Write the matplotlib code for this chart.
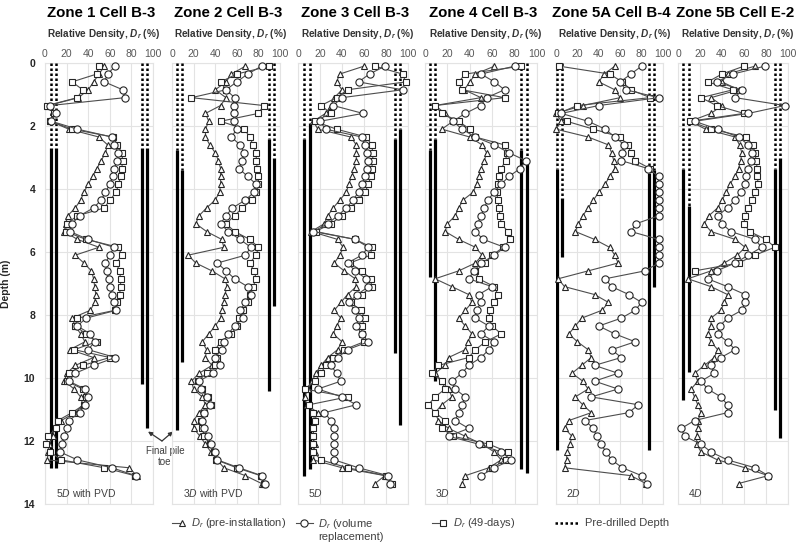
"""Relative density profiles before / after pile installation, six zones."""

import numpy as np
import matplotlib.pyplot as plt
from matplotlib.lines import Line2D

plt.rcParams["font.family"] = ["Liberation Sans", "DejaVu Sans"]
plt.rcParams["mathtext.fontset"] = "custom"
plt.rcParams["mathtext.rm"] = "Liberation Sans"
plt.rcParams["mathtext.it"] = "Liberation Sans:italic"
plt.rcParams["mathtext.bf"] = "Liberation Sans:bold"
plt.rcParams["mathtext.bfit"] = "Liberation Sans:bold:italic"

nan = np.nan

# --- Data -----------------------------------------------------------------
depth = [0.1, 0.35, 0.6, 0.85, 1.1, 1.35, 1.6, 1.85, 2.1, 2.35,
         2.6, 2.85, 3.1, 3.35, 3.6, 3.85, 4.1, 4.35, 4.6, 4.85,
         5.1, 5.35, 5.6, 5.85, 6.1, 6.35, 6.6, 6.85, 7.1, 7.35,
         7.6, 7.85, 8.1, 8.35, 8.6, 8.85, 9.1, 9.35, 9.6, 9.85,
         10.1, 10.35, 10.6, 10.85, 11.1, 11.35, 11.6, 11.85, 12.1, 12.35,
         12.6, 12.85, 13.1, 13.35]

z1_pre = [55, 50, 45, 40, 31, 3, 8, 5, 22, 50,
          58, 56, 52, 48, 44, 40, 36, 33, 28, 21,
          19, 18, 30, 50, 28, 36, 43, 45, 46, 47,
          46, 42, 25, 28, 33, 37, 23, 45, 28, 20,
          18, 27, 33, 35, 28, 15, 9, 7, 4, 3,
          2, 78, 85, nan]
z1_vr = [65, 58, 55, 72, 74, 5, 10, 6, 30, 62,
         64, 68, 67, 64, 63, 60, 56, 52, 45, 32,
         25, 23, 40, 64, 60, 56, 57, 59, 60, 62,
         64, 66, 38, 30, 42, 46, 40, 65, 45, 28,
         22, 37, 40, 37, 32, 22, 20, 18, 16, 14,
         30, 62, 84, nan]
z1_49 = [50, 48, 25, 35, 30, 2, 8, 5, 25, 63,
         67, 71, 72, 71, 70, 68, 66, 60, 55, 30,
         20, 19, 38, 68, 71, 66, 69, 70, 70, 69,
         67, 65, 30, 28, 38, 48, 27, 60, 35, 22,
         20, 35, 38, 36, 25, 12, 10, 3, 1, 5,
         15, 55, 83, nan]

z2_pre = [68, 55, 50, 40, 50, 45, 31, 34, 31, 31,
          35, 40, 43, 45, 45, 45, 44, 40, 32, 25,
          22, 32, 46, 48, 15, 22, 37, 49, 51, 49,
          48, 46, 45, 40, 34, 28, 32, 31, 37, 25,
          18, 20, 28, 31, 25, 20, 20, 26, 31, 36,
          42, 48, 68, 83]
z2_vr = [83, 70, 60, 50, 58, 57, 57, 57, 60, 55,
         63, 67, 65, 62, 70, 78, 76, 68, 56, 50,
         45, 52, 63, 73, 68, 42, 50, 58, 70, 73,
         68, 63, 66, 58, 52, 48, 46, 40, 44, 38,
         25, 27, 32, 35, 30, 28, 30, 33, 36, 40,
         42, 62, 83, 86]
z2_49 = [90, 60, 45, 50, 18, 85, 80, 45, 67, 72,
         75, 78, 78, 79, 80, 80, 78, 74, 65, 58,
         50, 58, 72, 80, 78, 72, 76, 78, 75, 72,
         70, 66, 62, 60, 55, 45, 40, 42, 40, 32,
         24, 28, 33, 36, 30, 27, 28, 30, 35, 39,
         41, 60, 82, 85]

z3_pre = [60, 38, 35, 40, 33, 30, 25, 14, 18, 48,
          53, 53, 53, 51, 49, 46, 44, 38, 32, 27,
          24, 12, 36, 41, 38, 33, 42, 52, 53, 45,
          39, 33, 39, 35, 32, 40, 36, 27, 21, 16,
          13, 9, 6, 8, 18, 15, 14, 14, 15, 15,
          14, 40, 79, 70]
z3_vr = [79, 65, 55, 95, 40, 32, 59, 20, 25, 58,
         61, 63, 64, 63, 61, 58, 55, 50, 44, 36,
         27, 14, 52, 64, 58, 45, 52, 62, 64, 54,
         46, 52, 55, 53, 58, 64, 45, 36, 30, 35,
         39, 18, 40, 53, 24, 30, 33, 33, 33, 33,
         33, 55, 82, 84]
z3_49 = [70, 95, 98, 45, 35, 21, 30, 15, 35, 62,
         67, 68, 68, 67, 66, 64, 61, 55, 48, 40,
         30, 16, 52, 67, 66, 47, 58, 66, 67, 58,
         48, 57, 61, 58, 58, 60, 42, 32, 25, 21,
         15, 6, 45, 10, 14, 15, 14, 14, 14, 14,
         21, 45, 80, 85]

z4_pre = [62, 45, 40, 35, 50, 9, 18, 25, 15, 40,
          51, 55, 53, 50, 48, 46, 43, 34, 30, 27,
          20, 18, 30, 45, 51, 45, 30, 9, 24, 39,
          42, 36, 30, 36, 42, 38, 36, 21, 18, 9,
          15, 21, 24, 15, 9, 12, 21, 36, 51, 62,
          68, 57, 36, 33]
z4_vr = [80, 50, 62, 71, 55, 50, 36, 25, 33, 45,
         62, 75, 90, 85, 75, 68, 62, 56, 53, 50,
         47, 45, 52, 71, 62, 50, 44, 39, 60, 48,
         50, 46, 45, 57, 50, 62, 57, 50, 39, 33,
         24, 27, 36, 33, 30, 27, 39, 21, 48, 68,
         77, 62, 50, nan]
z4_49 = [86, 36, 30, 33, 71, 9, 15, 30, 40, 45,
         71, 73, 72, 68, 66, 65, 64, 65, 66, 67,
         68, 74, 76, 70, 60, 54, 45, 48, 62, 65,
         62, 58, 57, 60, 68, 54, 45, 39, 12, 6,
         15, 18, 9, 3, 9, 18, 15, 25, 57, 74,
         72, 60, nan, nan]

z5a_pre = [55, 45, 40, 55, 60, 25, 0, 5, 0, 30,
           49, 52, 54, 55, 50, 46, 40, 35, 30, 25,
           21, 18, 36, 50, 55, 58, 30, 2, 8, 36,
           49, 43, 24, 18, 12, 20, 30, 33, 24, 15,
           25, 30, 18, 25, 33, 12, 8, 15, 13, 10,
           10, 8, 70, 84]
z5a_vr = [80, 70, 60, 65, 96, 40, 5, 30, 46, 55,
          64, 62, 61, 86, 96, 96, 96, 96, 96, 96,
          75, 70, 96, 96, 96, 96, 83, 46, 52, 68,
          80, 74, 61, 40, 55, 74, 52, 61, 36, 58,
          36, 58, 33, 77, 68, 27, 35, 38, 42, 47,
          52, 62, 80, 85]
z5a_49 = [3, 50, 62, 70, 88, 20, 2, 10, 35, 60,
          67, 70, 74, 88, nan, nan, nan, nan, nan, nan,
          nan, nan, nan, nan, nan, nan, nan, nan, nan, nan,
          nan, nan, nan, nan, nan, nan, nan, nan, nan, nan,
          nan, nan, nan, nan, nan, nan, nan, nan, nan, nan,
          nan, nan, nan, nan]

z5b_pre = [70, 45, 40, 55, 30, 40, 30, 11, 25, 52,
           56, 58, 57, 55, 52, 47, 44, 40, 36, 28,
           24, 30, 52, 61, 54, 42, 30, 9, 30, 45,
           42, 39, 30, 30, 27, 30, 36, 33, 24, 15,
           18, 12, 15, 18, 21, 18, 18, 17, 17, 21,
           36, 61, 82, 55]
z5b_vr = [79, 50, 35, 58, 52, 97, 64, 15, 36, 55,
          64, 67, 66, 64, 62, 61, 57, 52, 45, 36,
          40, 48, 70, 76, 64, 52, 35, 27, 45, 61,
          61, 58, 45, 38, 36, 45, 52, 39, 30, 33,
          21, 27, 39, 45, 45, 15, 3, 6, 21, 30,
          45, 70, 82, nan]
z5b_49 = [60, 40, 27, 50, 21, 35, 60, 11, 30, 62,
          68, 70, 71, 72, 72, 73, 70, 67, 64, 61,
          60, 65, 80, 88, 70, 55, 15, nan, nan, nan,
          nan, nan, nan, nan, nan, nan, nan, nan, nan, nan,
          nan, nan, nan, nan, nan, nan, nan, nan, nan, nan,
          nan, nan, nan, nan]

titles = ["Zone 1 Cell B-3", "Zone 2 Cell B-3", "Zone 3 Cell B-3",
          "Zone 4 Cell B-3", "Zone 5A Cell B-4", "Zone 5B Cell E-2"]
spacing = ["5$\\it{D}$ with PVD", "3$\\it{D}$ with PVD", "$\\it{5D}$",
           "$\\it{3D}$", "$\\it{2D}$", "$\\it{4D}$"]
pre_series = [z1_pre, z2_pre, z3_pre, z4_pre, z5a_pre, z5b_pre]
vr_series = [z1_vr, z2_vr, z3_vr, z4_vr, z5a_vr, z5b_vr]
d49_series = [z1_49, z2_49, z3_49, z4_49, z5a_49, z5b_49]

# pile shafts: (Dr position, pre-drilled depth, pile toe) for each line
piles = [
    [(5.5, 2.7, 12.85), (10, 2.7, 12.85), (89.5, 2.7, 10.2), (94, 2.7, 11.6)],
    [(5, 2.75, 11.65), (9, 3.4, 9.5), (89.5, 2.4, 10.4), (94, 3.0, 7.7)],
    [(5.5, 2.4, 13.1), (10.5, 1.9, 12.9), (88.5, 2.4, 9.2), (93, 2.1, 11.5)],
    [(4.5, 2.75, 6.8), (9, 2.4, 10.1), (86, 2.75, 12.9), (91, 3.1, 13.0)],
    [(0.5, 3.35, 12.3), (6, 4.3, 6.15), (87, 3.5, 12.3), (92, 3.4, 7.1)],
    [(4.5, 3.35, 10.7), (9.7, 4.55, 9.8), (88, 3.35, 11.0), (93, 3.0, 11.9)],
]

# --- Layout (pixel positions of each panel) -------------------------------
W, H = 798, 542
lefts = [45, 172, 298, 425, 556, 678]
rights = [153, 280, 408, 537, 663, 788]
top_px, bot_px = 63, 504

fig = plt.figure(figsize=(W / 100, H / 100), dpi=100)

grey = "#404040"
mk = dict(mfc="white", mec="#262626", mew=0.8, color="#4d4d4d", lw=0.8,
          clip_on=False)
dot_style = (0, (1, 1))

axes = []
for i in range(6):
    ax = fig.add_axes([lefts[i] / W, 1 - bot_px / H,
                       (rights[i] - lefts[i]) / W, (bot_px - top_px) / H])
    ax.patch.set_visible(False)
    axes.append(ax)

    for x, top, toe in piles[i]:
        ax.plot([x, x], [0, top], color="black", lw=1.8, ls=dot_style,
                zorder=3)
        ax.plot([x, x], [top, toe], color="black", lw=2.3,
                solid_capstyle="butt", zorder=3)

    ax.plot(pre_series[i], depth, marker="^", ms=4.5, zorder=4, **mk)
    ax.plot(d49_series[i], depth, marker="s", ms=4.3, zorder=5, **mk)
    ax.plot(vr_series[i], depth, marker="o", ms=5.2, zorder=6, **mk)

    ax.text(9 if i > 1 else 10, 13.65, spacing[i], fontsize=7.5,
            color=grey, va="center", ha="left")

    ax.set_xlim(0, 100)
    ax.set_ylim(14, 0)
    ax.set_xticks([0, 20, 40, 60, 80, 100])
    ax.set_yticks(range(0, 15, 2))
    ax.xaxis.tick_top()
    ax.tick_params(axis="x", length=0, pad=3, labelsize=7.5,
                   labelcolor="#595959")
    ax.tick_params(axis="y", length=0, pad=7, labelsize=7.5,
                   labelcolor="#262626")
    if i > 0:
        ax.set_yticklabels([])
    else:
        for lab in ax.get_yticklabels():
            lab.set_fontweight("bold")
    ax.grid(True, color="#e3e3e3", lw=0.8)
    ax.set_axisbelow(True)
    for s in ax.spines.values():
        s.set_color("#e3e3e3")
        s.set_linewidth(0.8)

    cx = (lefts[i] + rights[i]) / 2 / W
    fig.text(cx + 2 / W, 1 - 13 / H, titles[i], fontsize=10.8,
             fontweight="bold", ha="center", va="center")
    fig.text(cx + 5 / W, 1 - 34 / H,
             "Relative Density, $\\mathbfit{D_r}$ (%)", fontsize=7.2,
             fontweight="bold", color="#333333", ha="center", va="center")

axes[0].set_ylabel("Depth (m)", fontsize=7.5, fontweight="bold",
                   color="#262626", labelpad=9)

# --- Final pile toe annotation --------------------------------------------
ax1 = axes[0]
for tip in (95.4, 118.5):
    ax1.annotate("", xy=(tip, 11.7), xytext=(108.3, 12.0),
                 arrowprops=dict(arrowstyle="-|>", color="#333333", lw=0.9,
                                 mutation_scale=6, shrinkA=0, shrinkB=0),
                 annotation_clip=False)
ax1.text(111, 12.5, "Final pile\ntoe", fontsize=7, color=grey,
         ha="center", va="center", clip_on=False, linespacing=1.1,
         zorder=10)

# --- Legend (hand-placed) -------------------------------------------------
def fx(px):
    return px / W


def fy(py):
    return 1 - py / H


ly = 523
legend_items = [
    ((172, 182), 182, "^", 4.5, 191, "$D_r$ (pre-installation)"),
    ((296, 313), 304, "o", 5.2, 318, "$D_r$ (volume\nreplacement)"),
    ((432, 443), 443, "s", 4.3, 453, "$D_r$ (49-days)"),
]
for (x0, x1), xm, m, ms, xt, label in legend_items:
    fig.add_artist(Line2D([fx(x0), fx(x1)], [fy(ly), fy(ly)],
                          color="#4d4d4d", lw=0.8,
                          transform=fig.transFigure))
    fig.add_artist(Line2D([fx(xm)], [fy(ly)], marker=m, ms=ms, mfc="white",
                          mec="#262626", mew=0.8, ls="none",
                          transform=fig.transFigure))
    two_lines = "\n" in label
    fig.text(fx(xt), fy(ly - 6) if two_lines else fy(ly), label,
             fontsize=8, color=grey, ha="left",
             va="top" if two_lines else "center", linespacing=1.1)

fig.add_artist(Line2D([fx(555), fx(578)], [fy(ly), fy(ly)], color="black",
                      lw=1.8, ls=dot_style, transform=fig.transFigure))
fig.text(fx(585), fy(ly), "Pre-drilled Depth", fontsize=8, color=grey,
         ha="left", va="center")

fig.savefig("out.png", dpi=100)
